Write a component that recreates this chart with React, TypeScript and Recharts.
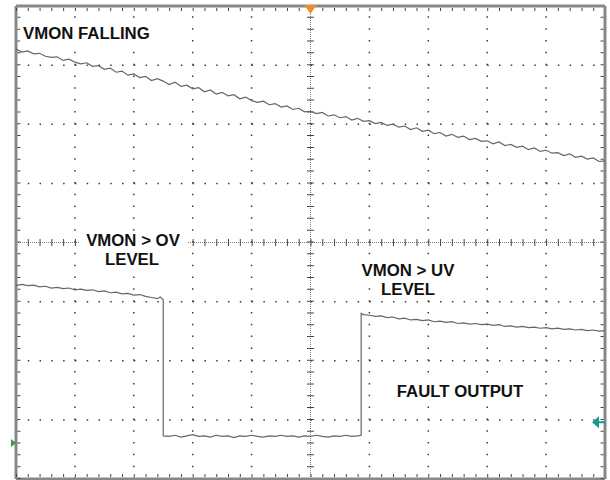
import { LineChart, Line, XAxis, YAxis, ReferenceLine, ReferenceDot } from 'recharts'

// Scope screen: 10 x 8 divisions, values in divisions (0 = bottom, 8 = top)
const CHART_W = 610
const CHART_H = 480
const MARGIN = { top: 6, right: 5, bottom: 1, left: 16 }
const PLOT_W = CHART_W - MARGIN.left - MARGIN.right
const PLOT_H = CHART_H - MARGIN.top - MARGIN.bottom
const MINOR_X = PLOT_W / 50
const MINOR_Y = PLOT_H / 40

// ── Channel 1 : VMON falling ─────────────────────────────────
const vmonTime = [
  0, 0.1, 0.2, 0.3, 0.4, 0.5, 0.6, 0.7, 0.8, 0.9,
  1, 1.1, 1.2, 1.3, 1.4, 1.5, 1.6, 1.7, 1.8, 1.9,
  2, 2.1, 2.2, 2.3, 2.4, 2.5, 2.6, 2.7, 2.8, 2.9,
  3, 3.1, 3.2, 3.3, 3.4, 3.5, 3.6, 3.7, 3.8, 3.9,
  4, 4.1, 4.2, 4.3, 4.4, 4.5, 4.6, 4.7, 4.8, 4.9,
  5, 5.1, 5.2, 5.3, 5.4, 5.5, 5.6, 5.7, 5.8, 5.9,
  6, 6.1, 6.2, 6.3, 6.4, 6.5, 6.6, 6.7, 6.8, 6.9,
  7, 7.1, 7.2, 7.3, 7.4, 7.5, 7.6, 7.7, 7.8, 7.9,
  8, 8.1, 8.2, 8.3, 8.4, 8.5, 8.6, 8.7, 8.8, 8.9,
  9, 9.1, 9.2, 9.3, 9.4, 9.5, 9.6, 9.7, 9.8, 9.9, 10,
]
const vmonLevel = [
  7.27, 7.22, 7.24, 7.19, 7.2, 7.15, 7.13, 7.14, 7.08, 7.1,
  7.05, 7.02, 7.04, 6.98, 6.99, 6.93, 6.95, 6.88, 6.9, 6.83,
  6.85, 6.79, 6.81, 6.74, 6.77, 6.73, 6.67, 6.71, 6.64, 6.66,
  6.6, 6.62, 6.55, 6.58, 6.51, 6.54, 6.48, 6.5, 6.43, 6.46,
  6.4, 6.37, 6.39, 6.33, 6.35, 6.29, 6.31, 6.25, 6.27, 6.21,
  6.22, 6.18, 6.2, 6.14, 6.16, 6.11, 6.13, 6.07, 6.1, 6.05,
  6.06, 6.01, 6.03, 5.98, 6.0, 5.95, 5.97, 5.91, 5.94, 5.88,
  5.9, 5.84, 5.86, 5.8, 5.83, 5.78, 5.8, 5.74, 5.76, 5.71,
  5.72, 5.67, 5.7, 5.64, 5.66, 5.61, 5.63, 5.57, 5.6, 5.54,
  5.56, 5.51, 5.52, 5.47, 5.5, 5.44, 5.46, 5.41, 5.43, 5.37, 5.38,
]

// ── Channel 2 : fault output ─────────────────────────────────
const faultTime = [
  0, 0.1, 0.2, 0.3, 0.4, 0.5, 0.6, 0.7, 0.8, 0.9,
  1, 1.1, 1.2, 1.3, 1.4, 1.5, 1.6, 1.7, 1.8, 1.9,
  2, 2.1, 2.2, 2.3, 2.4, 2.45, 2.5,
  2.5, 2.6, 2.7, 2.8, 2.9, 3, 3.1, 3.2, 3.3, 3.4,
  3.5, 3.6, 3.7, 3.8, 3.9, 4, 4.1, 4.2, 4.3, 4.4,
  4.5, 4.6, 4.7, 4.8, 4.9, 5, 5.1, 5.2, 5.3, 5.4,
  5.5, 5.6, 5.7, 5.8, 5.86,
  5.86, 5.9, 6, 6.1, 6.2, 6.3, 6.4, 6.5, 6.6, 6.7,
  6.8, 6.9, 7, 7.1, 7.2, 7.3, 7.4, 7.5, 7.6, 7.7,
  7.8, 7.9, 8, 8.1, 8.2, 8.3, 8.4, 8.5, 8.6, 8.7,
  8.8, 8.9, 9, 9.1, 9.2, 9.3, 9.4, 9.5, 9.6, 9.7,
  9.8, 9.9, 10,
]
const faultLevel = [
  3.27, 3.29, 3.27, 3.28, 3.25, 3.26, 3.23, 3.24, 3.22, 3.23,
  3.2, 3.21, 3.19, 3.2, 3.17, 3.18, 3.15, 3.16, 3.13, 3.14,
  3.11, 3.12, 3.09, 3.07, 3.05, 3.08, 3.03,
  0.73, 0.72, 0.74, 0.71, 0.73, 0.75, 0.72, 0.73, 0.71, 0.74,
  0.72, 0.73, 0.7, 0.73, 0.72, 0.74, 0.72, 0.71, 0.73, 0.72,
  0.74, 0.72, 0.73, 0.71, 0.73, 0.72, 0.74, 0.72, 0.71, 0.73,
  0.72, 0.74, 0.72, 0.73, 0.74,
  2.8, 2.78, 2.77, 2.75, 2.76, 2.73, 2.74, 2.71, 2.72, 2.69,
  2.7, 2.68, 2.69, 2.66, 2.67, 2.65, 2.66, 2.63, 2.64, 2.62,
  2.63, 2.61, 2.62, 2.6, 2.61, 2.58, 2.59, 2.57, 2.58, 2.56,
  2.57, 2.55, 2.56, 2.54, 2.55, 2.53, 2.54, 2.52, 2.53, 2.51,
  2.52, 2.5, 2.51,
]

// Marqueurs de l'écran (trigger, référence des voies)
const TRIGGER_POS = 5
const CH_LEFT_MARK = 0.61
const CH_RIGHT_MARK = 0.96

const vmonData = vmonTime.map((t, i) => ({ t, v: vmonLevel[i] }))
const faultData = faultTime.map((t, i) => ({ t, v: faultLevel[i] }))

const gridX = [1, 2, 3, 4, 6, 7, 8, 9]
const gridY = [1, 2, 3, 5, 6, 7]

const TRACE = '#666'
const DOTS = '#3a3a3a'
const BORDER = '#888'
const FONT = '"Liberation Sans", Arial, sans-serif'

const labelStyle = { fontFamily: FONT, fontWeight: 700, fontSize: 16.8, fill: '#111' }

// annotations : [texte, x, y (ligne de base), ancrage, fond]
const notes: [string, number, number, 'start' | 'middle', [number, number, number, number]][] = [
  ['VMON FALLING', 23, 39, 'start', [20, 25, 140, 17]],
  ['VMON > OV', 133, 246, 'middle', [80, 231, 107, 19]],
  ['LEVEL', 132, 265, 'middle', [98, 251, 68, 17]],
  ['VMON > UV', 408, 276, 'middle', [355, 261, 107, 18]],
  ['LEVEL', 408, 295, 'middle', [376, 281, 64, 17]],
  ['FAULT OUTPUT', 460, 397, 'middle', [391, 381, 138, 19]],
]

function TriggerMark({ cx, cy }: { cx?: number; cy?: number }) {
  if (cx == null || cy == null) return null
  return <polygon points={`${cx - 6},${cy - 1} ${cx + 6},${cy - 1} ${cx},${cy + 8}`} fill="#f28c28" />
}

function RightMark({ cx, cy }: { cx?: number; cy?: number }) {
  if (cx == null || cy == null) return null
  return (
    <g fill="#14998a">
      <polygon points={`${cx - 13},${cy} ${cx - 6},${cy - 6} ${cx - 6},${cy + 6}`} />
      <rect x={cx - 7} y={cy - 1} width={7} height={2} />
    </g>
  )
}

function LeftMark({ cx, cy }: { cx?: number; cy?: number }) {
  if (cx == null || cy == null) return null
  return <polygon points={`${cx - 5},${cy - 4} ${cx - 5},${cy + 4} ${cx},${cy}`} fill="#3e9a46" />
}

export default function App() {
  return (
    <div style={{ position: 'absolute', left: 0, top: 0, width: CHART_W, height: CHART_H, background: '#fff' }}>
      <LineChart width={CHART_W} height={CHART_H} margin={MARGIN}>
        <XAxis dataKey="t" type="number" domain={[0, 10]} hide allowDataOverflow />
        <YAxis type="number" domain={[0, 8]} hide allowDataOverflow />

        {/* grille pointillée */}
        {gridX.map((x) => (
          <ReferenceLine key={`gx${x}`} x={x} stroke={DOTS} strokeWidth={1.5}
            strokeDasharray={`1.5 ${MINOR_Y - 1.5}`} />
        ))}
        {gridY.map((y) => (
          <ReferenceLine key={`gy${y}`} y={y} stroke={DOTS} strokeWidth={1.5}
            strokeDasharray={`1.5 ${MINOR_X - 1.5}`} />
        ))}

        {/* axes centraux avec graduations */}
        <ReferenceLine x={5} stroke="#808080" strokeWidth={1} strokeDasharray="1 1" />
        <ReferenceLine y={4} stroke="#808080" strokeWidth={1} strokeDasharray="1 1" />
        <ReferenceLine x={5} stroke="#444" strokeWidth={7} strokeDasharray={`1 ${MINOR_Y - 1}`} />
        <ReferenceLine y={4} stroke="#444" strokeWidth={7} strokeDasharray={`1 ${MINOR_X - 1}`} />

        {/* cadre */}
        <ReferenceLine x={0} stroke={BORDER} strokeWidth={3} />
        <ReferenceLine x={10} stroke={BORDER} strokeWidth={3} />
        <ReferenceLine y={0} stroke={BORDER} strokeWidth={3} />
        <ReferenceLine y={8} stroke={BORDER} strokeWidth={3} />
        <ReferenceLine x={0.05} stroke="#444" strokeWidth={3} strokeDasharray={`1 ${MINOR_Y - 1}`} />
        <ReferenceLine x={9.95} stroke="#444" strokeWidth={3} strokeDasharray={`1 ${MINOR_Y - 1}`} />
        <ReferenceLine y={0.06} stroke="#444" strokeWidth={3} strokeDasharray={`1 ${MINOR_X - 1}`} />
        <ReferenceLine y={7.94} stroke="#444" strokeWidth={3} strokeDasharray={`1 ${MINOR_X - 1}`} />

        <Line data={vmonData} dataKey="v" type="linear" dot={false} activeDot={false}
          stroke={TRACE} strokeWidth={1.2} isAnimationActive={false} />
        <Line data={faultData} dataKey="v" type="linear" dot={false} activeDot={false}
          stroke={TRACE} strokeWidth={1.2} isAnimationActive={false} />

        <ReferenceDot x={TRIGGER_POS} y={8} ifOverflow="visible" shape={<TriggerMark />} />
        <ReferenceDot x={10} y={CH_RIGHT_MARK} ifOverflow="visible" shape={<RightMark />} />
        <ReferenceDot x={0} y={CH_LEFT_MARK} ifOverflow="visible" shape={<LeftMark />} />
      </LineChart>

      <svg width={CHART_W} height={CHART_H}
        style={{ position: 'absolute', left: 0, top: 0, pointerEvents: 'none' }}>
        {notes.map(([label, x, y, anchor, [bx, by, bw, bh]], i) => (
          <g key={i}>
            <rect x={bx} y={by} width={bw} height={bh} fill="#fff" />
            <text x={x} y={y} textAnchor={anchor} style={labelStyle}>{label}</text>
          </g>
        ))}
      </svg>
    </div>
  )
}
